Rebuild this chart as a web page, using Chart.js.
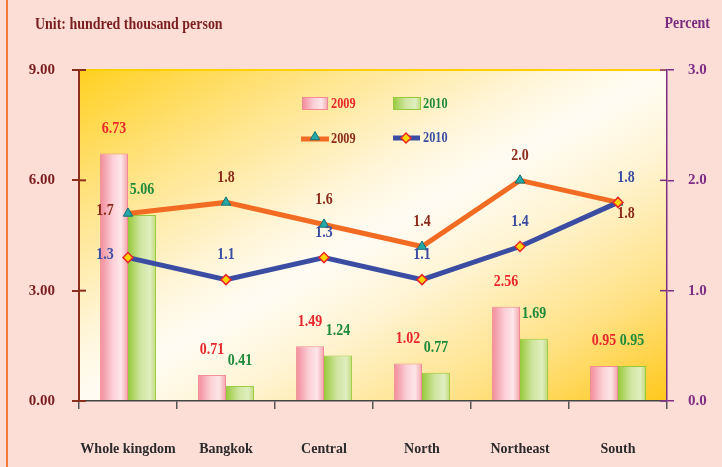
<!DOCTYPE html>
<html>
<head>
<meta charset="utf-8">
<script src="https://cdn.jsdelivr.net/npm/chart.js@4.4.1/dist/chart.umd.min.js"></script>
<style>
    html, body { margin: 0; padding: 0; background: #FCDED7; }
    #wrap { width: 722px; height: 467px; }
</style>
</head>
<body>
<div id="wrap"><canvas id="chart" width="722" height="467"></canvas></div>
<script>
var regions = ['Whole kingdom', 'Bangkok', 'Central', 'North', 'Northeast', 'South'];
var persons2009 = [6.73, 0.71, 1.49, 1.02, 2.56, 0.95];
var persons2010 = [5.06, 0.41, 1.24, 0.77, 1.69, 0.95];
var percent2009 = [1.7, 1.8, 1.6, 1.4, 2.0, 1.8];
var percent2010 = [1.3, 1.1, 1.3, 1.1, 1.4, 1.8];
var seriesNames = ['2009', '2010'];

// where each line label sits relative to its point
var lineLabelPlace = [
    ['left', 'top', 'top', 'top', 'top', 'below'],
    ['left', 'top', 'top', 'top', 'top', 'topRight']
];

var CAT_PCT = 0.57;
var FONT = '"Liberation Serif", "Times New Roman", serif';

var pinkStops = [[0, '#F2899A'], [0.45, '#FBD0D6'], [0.75, '#FDE6E9'], [1, '#F4A2AB']];
var greenStops = [[0, '#97C93A'], [0.45, '#CFE5A0'], [0.8, '#E0EEBF'], [1, '#BCDA78']];

var triangleStyle = { pointStyle: 'triangle', radius: 5.5, borderWidth: 1, fill: '#25A8A8', stroke: '#136F73' };
var diamondStyle = { pointStyle: 'rectRot', radius: 5, borderWidth: 1.5, fill: '#FFD400', stroke: '#E8262B' };

var hGrad = function (ctx, left, right, stops) {
    var g = ctx.createLinearGradient(left, 0, right, 0);
    stops.forEach(function (s) { g.addColorStop(s[0], s[1]); });
    return g;
};

var barFill = function (stops, side) {
    return function (c) {
        var chart = c.chart;
        var xs = chart.scales.x;
        if (!xs || c.dataIndex === undefined || !chart.chartArea) {
            return stops[1][1];
        }
        var slot = xs.width / regions.length * CAT_PCT / 2;
        var mid = xs.getPixelForValue(c.dataIndex);
        var left = side < 0 ? mid - slot : mid;
        return hGrad(chart.ctx, left, left + slot, stops);
    };
};

var drawText = function (ctx, text, x, y, color, size, align) {
    ctx.save();
    ctx.translate(x, y);
    ctx.scale(0.82, 1);
    ctx.font = 'bold ' + size + 'px ' + FONT;
    ctx.fillStyle = color;
    ctx.textAlign = align || 'center';
    ctx.textBaseline = 'middle';
    ctx.fillText(text, 0, 0);
    ctx.restore();
};

var drawMarker = function (ctx, st, x, y) {
    ctx.save();
    ctx.fillStyle = st.fill;
    ctx.strokeStyle = st.stroke;
    ctx.lineWidth = st.borderWidth;
    Chart.helpers.drawPoint(ctx, { pointStyle: st.pointStyle, radius: st.radius, borderWidth: st.borderWidth }, x, y);
    ctx.restore();
};

var backdrop = {
    id: 'backdrop',
    beforeDraw: function (chart) {
        var ctx = chart.ctx;
        var a = chart.chartArea;
        ctx.save();
        ctx.fillStyle = '#FCDED7';
        ctx.fillRect(0, 0, chart.width, chart.height);

        ctx.fillStyle = '#F47A3C';
        ctx.fillRect(6, 0, 2, chart.height);

        var w = a.right - a.left, h = a.bottom - a.top;
        var s = 2 * w * h / (w * w + h * h);
        var g = ctx.createLinearGradient(a.left, a.top, a.left + h * s, a.top + w * s);
        g.addColorStop(0, '#FFD020');
        g.addColorStop(0.2, '#FFE383');
        g.addColorStop(0.4, '#FFF5D8');
        g.addColorStop(0.5, '#FFFCF4');
        g.addColorStop(0.62, '#FFF4D4');
        g.addColorStop(0.82, '#FFE184');
        g.addColorStop(1, '#FFC81A');
        ctx.fillStyle = g;
        ctx.fillRect(a.left, a.top, w, h);

        ctx.strokeStyle = '#FFD000';
        ctx.lineWidth = 2;
        ctx.beginPath();
        ctx.moveTo(a.left, a.top);
        ctx.lineTo(a.right, a.top);
        ctx.stroke();
        ctx.restore();
    }
};

var valueLabels = {
    id: 'valueLabels',
    afterDatasetsDraw: function (chart) {
        var ctx = chart.ctx;
        var barColors = ['#E8262B', '#1E8A3A'];
        var lineColors = ['#8B2A1A', '#3A4DA2'];

        [0, 1].forEach(function (d) {
            var meta = chart.getDatasetMeta(d);
            meta.data.forEach(function (el, i) {
                var v = chart.data.datasets[d].data[i];
                drawText(ctx, v.toFixed(2), el.x, el.y - 25, barColors[d], 17);
            });
        });

        [2, 3].forEach(function (d, k) {
            var meta = chart.getDatasetMeta(d);
            meta.data.forEach(function (el, i) {
                var v = chart.data.datasets[d].data[i];
                var place = lineLabelPlace[k][i];
                var dx = 0, dy = -25;
                if (place === 'left') { dx = -23; dy = -3; }
                if (place === 'below') { dx = 8; dy = 11; }
                if (place === 'topRight') { dx = 8; dy = -25; }
                drawText(ctx, v.toFixed(1), el.x + dx, el.y + dy, lineColors[k], 17);
            });
        });
    },
    afterDraw: function (chart) {
        var ctx = chart.ctx;
        var a = chart.chartArea;

        drawText(ctx, 'Unit: hundred thousand person', 35, 25, '#7B1E1E', 17, 'left');
        drawText(ctx, 'Percent', 710, 24, '#7B2C7E', 17, 'right');

        // inner half of the axis tick marks
        ctx.save();
        ctx.lineWidth = 2;
        ctx.strokeStyle = '#8B2E1E';
        chart.scales.y.ticks.forEach(function (t) {
            var y = chart.scales.y.getPixelForValue(t.value);
            ctx.beginPath();
            ctx.moveTo(a.left, y);
            ctx.lineTo(a.left + 7, y);
            ctx.stroke();
        });
        ctx.lineWidth = 1.5;
        ctx.strokeStyle = '#7E2F84';
        chart.scales.y1.ticks.forEach(function (t) {
            var y = chart.scales.y1.getPixelForValue(t.value);
            ctx.beginPath();
            ctx.moveTo(a.right - 7, y);
            ctx.lineTo(a.right, y);
            ctx.stroke();
        });
        ctx.restore();

        // legend
        var lx = a.left + 223, ly = a.top + 27;
        ctx.save();
        ctx.fillStyle = hGrad(ctx, lx, lx + 26, pinkStops);
        ctx.fillRect(lx, ly, 26, 13);
        ctx.strokeStyle = '#F08A94';
        ctx.lineWidth = 1;
        ctx.strokeRect(lx + 0.5, ly + 0.5, 25, 12);
        ctx.fillStyle = hGrad(ctx, lx + 91, lx + 119, greenStops);
        ctx.fillRect(lx + 91, ly, 28, 13);
        ctx.strokeStyle = '#97C93A';
        ctx.strokeRect(lx + 91.5, ly + 0.5, 27, 12);

        ctx.lineWidth = 5;
        ctx.strokeStyle = '#F26B22';
        ctx.beginPath();
        ctx.moveTo(lx - 1, ly + 42);
        ctx.lineTo(lx + 27, ly + 42);
        ctx.stroke();
        ctx.strokeStyle = '#3A4DA2';
        ctx.beginPath();
        ctx.moveTo(lx + 91, ly + 41);
        ctx.lineTo(lx + 118, ly + 41);
        ctx.stroke();
        ctx.restore();

        drawMarker(ctx, triangleStyle, lx + 13, ly + 40);
        drawMarker(ctx, diamondStyle, lx + 104, ly + 41);

        drawText(ctx, seriesNames[0], lx + 29, ly + 7, '#E8262B', 15, 'left');
        drawText(ctx, seriesNames[1], lx + 121, ly + 7, '#1E8A3A', 15, 'left');
        drawText(ctx, seriesNames[0], lx + 29, ly + 42, '#8B2A1A', 15, 'left');
        drawText(ctx, seriesNames[1], lx + 121, ly + 41, '#3A4DA2', 15, 'left');
    }
};

var chart = new Chart(document.getElementById('chart'), {
    data: {
        labels: regions,
        datasets: [{
            type: 'bar',
            label: seriesNames[0],
            data: persons2009,
            yAxisID: 'y',
            order: 2,
            backgroundColor: barFill(pinkStops, -1),
            borderColor: '#F08A94',
            borderWidth: 1,
            categoryPercentage: CAT_PCT,
            barPercentage: 1
        }, {
            type: 'bar',
            label: seriesNames[1],
            data: persons2010,
            yAxisID: 'y',
            order: 2,
            backgroundColor: barFill(greenStops, 1),
            borderColor: '#97C93A',
            borderWidth: 1,
            categoryPercentage: CAT_PCT,
            barPercentage: 1
        }, {
            type: 'line',
            label: seriesNames[0],
            data: percent2009,
            yAxisID: 'y1',
            order: 1,
            borderColor: '#F26B22',
            borderWidth: 5,
            tension: 0,
            pointStyle: triangleStyle.pointStyle,
            pointRadius: triangleStyle.radius,
            pointBackgroundColor: triangleStyle.fill,
            pointBorderColor: triangleStyle.stroke,
            pointBorderWidth: triangleStyle.borderWidth
        }, {
            type: 'line',
            label: seriesNames[1],
            data: percent2010,
            yAxisID: 'y1',
            order: 0,
            borderColor: '#3A4DA2',
            borderWidth: 5,
            tension: 0,
            pointStyle: diamondStyle.pointStyle,
            pointRadius: diamondStyle.radius,
            pointBackgroundColor: diamondStyle.fill,
            pointBorderColor: diamondStyle.stroke,
            pointBorderWidth: diamondStyle.borderWidth
        }]
    },
    options: {
        responsive: false,
        animation: false,
        devicePixelRatio: 1,
        layout: { padding: { top: 70, left: 0, right: 0, bottom: 0 } },
        plugins: {
            legend: { display: false },
            tooltip: { enabled: false }
        },
        scales: {
            x: {
                offset: true,
                grid: { offset: true, drawOnChartArea: false, tickLength: 8, color: '#555', lineWidth: 1.5 },
                border: { color: '#444', width: 1.5 },
                ticks: {
                    font: { family: FONT, weight: 'bold', size: 14 },
                    color: '#2B2B2B',
                    padding: 32,
                    maxRotation: 0,
                    autoSkip: false
                },
                afterFit: function (s) { s.height = 66; }
            },
            y: {
                position: 'left',
                min: 0,
                max: 9,
                ticks: {
                    stepSize: 3,
                    callback: function (v) { return v.toFixed(2); },
                    font: { family: FONT, weight: 'bold', size: 15 },
                    color: '#7B1E1E',
                    padding: 17
                },
                grid: { drawOnChartArea: false, tickLength: 7, color: '#8B2E1E', lineWidth: 2 },
                border: { color: '#8B2E1E', width: 2 },
                afterFit: function (s) { s.width = 79; }
            },
            y1: {
                position: 'right',
                min: 0,
                max: 3,
                ticks: {
                    stepSize: 1,
                    callback: function (v) { return v.toFixed(1); },
                    font: { family: FONT, weight: 'bold', size: 15 },
                    color: '#7E2F84',
                    padding: 14
                },
                grid: { drawOnChartArea: false, tickLength: 7, color: '#7E2F84', lineWidth: 1.5 },
                border: { color: '#7E2F84', width: 1.5 },
                afterFit: function (s) { s.width = 55; }
            }
        }
    },
    plugins: [backdrop, valueLabels]
});
</script>
</body>
</html>
